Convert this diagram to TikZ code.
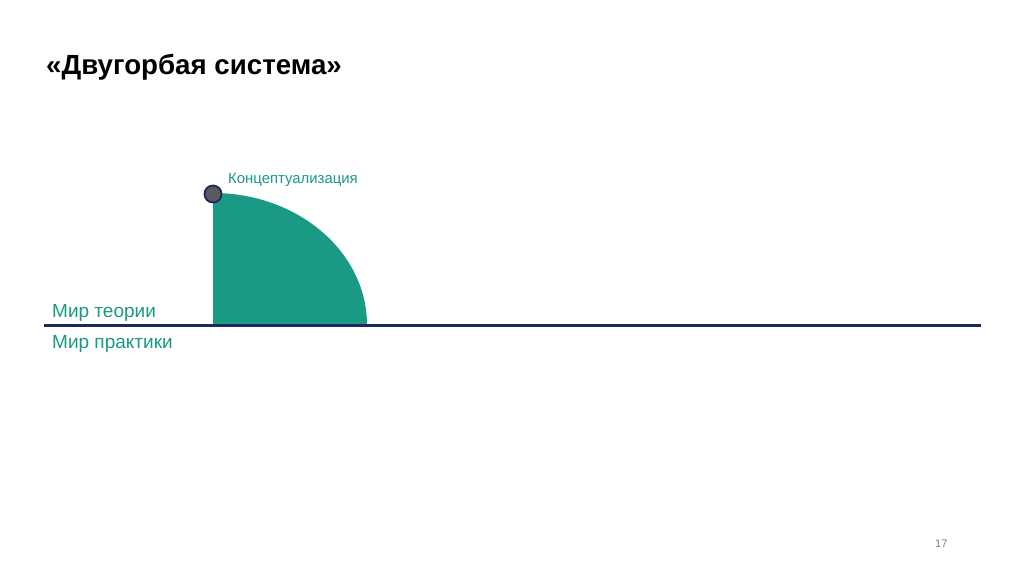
\documentclass[tikz,border=0pt]{standalone}
\usepackage{fontspec}
\setmainfont{Liberation Sans}
\definecolor{teal1}{HTML}{1A9985}
\definecolor{navy1}{HTML}{1B2A5C}
\definecolor{dotgray}{HTML}{5A5A5E}
\begin{document}
\begin{tikzpicture}[x=1pt,y=-1pt,
  lbl/.style={inner sep=0pt,anchor=base west,text=teal1},
  ttl/.style={inner sep=0pt,anchor=base west,font=\bfseries\fontsize{27.7}{32}\selectfont}]
\useasboundingbox (0,0) rectangle (1024,574);
\fill[white] (0,0) rectangle (1024,574);
% hump
\coordinate (c) at (213,325);
\fill[teal1] (c) -- (213,193) arc[start angle=90,end angle=0,x radius=154,y radius=-132] -- cycle;
% axis line
\coordinate (la) at (44,325);
\coordinate (lb) at (981,325);
\draw[navy1,line width=3pt] (la) -- (lb);
% dot
\node[circle,fill=dotgray,draw=navy1,line width=1.8pt,minimum size=17pt,inner sep=0pt] (dot) at (213,194) {};
% texts
\node[ttl] (title) at (46,74) {«Двугорбая система»};
\node[lbl,font=\fontsize{14.9}{17}\selectfont] (concept) at (228,183) {Концептуализация};
\node[lbl,font=\fontsize{19}{22}\selectfont] (theory) at (52,317) {Мир теории};
\node[lbl,font=\fontsize{19}{22}\selectfont] (practice) at (52,348) {Мир практики};
\node[inner sep=0pt,anchor=base west,text=gray,font=\fontsize{11}{13}\selectfont] (page) at (935,547) {17};
\end{tikzpicture}
\end{document}
